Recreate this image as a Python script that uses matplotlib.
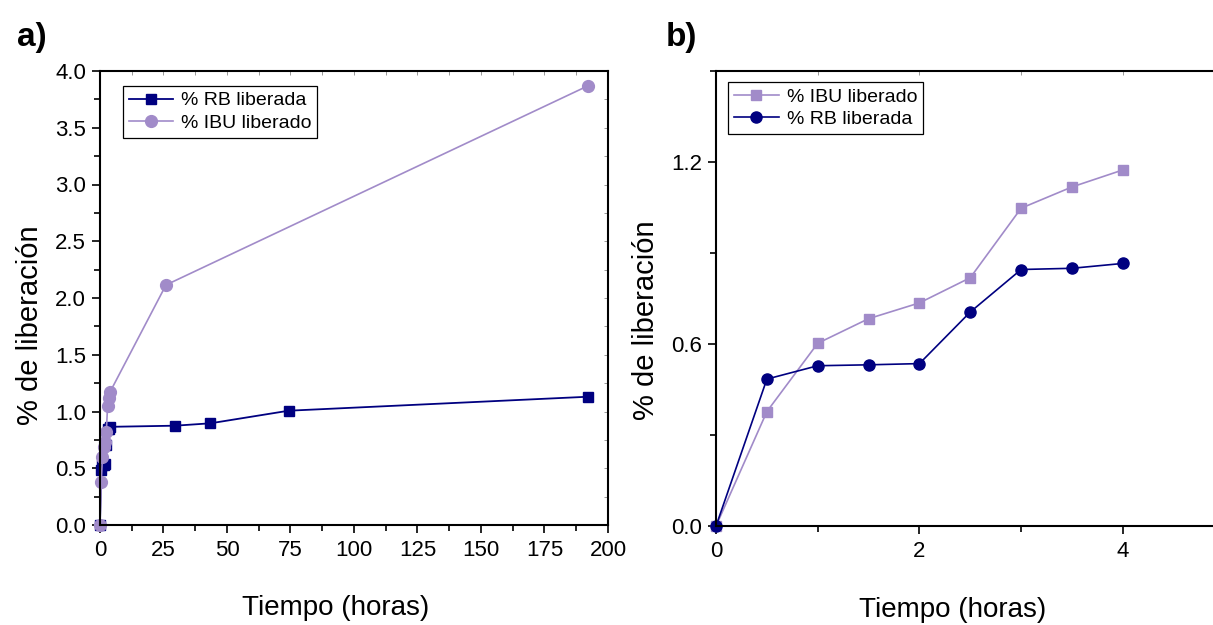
import matplotlib
matplotlib.use("Agg")
from matplotlib import pyplot as plt
from matplotlib.ticker import MultipleLocator, FormatStrFormatter, NullFormatter

plt.rcParams['font.family'] = ['Liberation Sans', 'DejaVu Sans']

# tiempos (horas)
t_short = [0, 0.5, 1.0, 1.5, 2.0, 2.5, 3.0, 3.5, 4.0]
rb_short = [0, 0.484, 0.528, 0.531, 0.535, 0.705, 0.845, 0.849, 0.865]
ibu_short = [0, 0.377, 0.602, 0.683, 0.735, 0.818, 1.047, 1.117, 1.173]

# ensayo largo
t_rb_long = t_short + [29.6, 43.5, 74.3, 192]
rb_long = rb_short + [0.875, 0.896, 1.007, 1.130]
t_ibu_long = t_short + [26, 192]
ibu_long = ibu_short + [2.115, 3.868]

navy = '#000080'
lila = '#A18BC9'

fig = plt.figure(figsize=(12.13, 6.25), dpi=100)
ax1 = fig.add_axes([0.0824, 0.16, 0.4188, 0.7264])
ax2 = fig.add_axes([0.5903, 0.1584, 0.4192, 0.7285])

# a)
ax1.plot(t_rb_long, rb_long, color=navy, lw=1.3, marker='s', ms=7, label='% RB liberada', clip_on=False)
ax1.plot(t_ibu_long, ibu_long, color=lila, lw=1.2, marker='o', ms=8.5, label='% IBU liberado', clip_on=False)
ax1.set_xlim(0, 200)
ax1.set_ylim(0, 4)
ax1.xaxis.set_major_locator(MultipleLocator(25))
ax1.xaxis.set_minor_locator(MultipleLocator(12.5))
ax1.yaxis.set_major_locator(MultipleLocator(0.5))
ax1.yaxis.set_minor_locator(MultipleLocator(0.25))
ax1.yaxis.set_major_formatter(FormatStrFormatter('%.1f'))

# b)
ax2.plot(t_short, ibu_short, color=lila, lw=1.2, marker='s', ms=7, label='% IBU liberado', clip_on=False)
ax2.plot(t_short, rb_short, color=navy, lw=1.2, marker='o', ms=8, label='% RB liberada', clip_on=False)
ax2.set_xlim(0, 5)
ax2.set_ylim(0, 1.5)
ax2.xaxis.set_major_locator(MultipleLocator(2))
ax2.xaxis.set_minor_locator(MultipleLocator(1))
ax2.yaxis.set_major_locator(MultipleLocator(0.6))
ax2.yaxis.set_minor_locator(MultipleLocator(0.3))
ax2.yaxis.set_major_formatter(FormatStrFormatter('%.1f'))
ax2.spines['right'].set_visible(False)

for ax in [ax1, ax2]:
    for s in ax.spines.values():
        s.set_linewidth(1.5)
    ax.tick_params(which='both', direction='out', width=1.2, labelsize=16, top=False, right=False)
    ax.tick_params(which='major', length=6, pad=4)
    ax.tick_params(which='minor', length=4)
    ax.tick_params(axis='x', which='major', pad=5)
    ax.set_xlabel('Tiempo (horas)', fontsize=20, labelpad=26)
    ax.set_ylabel('% de liberación', fontsize=21, labelpad=8)

ax1.xaxis.set_label_coords(0.463, -0.155)
ax2.xaxis.set_label_coords(0.466, -0.155)
ax1.yaxis.get_label().set_y(0.44)
ax2.yaxis.get_label().set_y(0.453)

# ticks interiores tenues arriba / derecha
top1 = ax1.secondary_xaxis('top')
top1.xaxis.set_major_locator(MultipleLocator(12.5))
top1.xaxis.set_major_formatter(NullFormatter())
top1.tick_params(direction='in', length=3, width=0.6, color='#888888')
top1.spines['top'].set_visible(False)
right1 = ax1.secondary_yaxis('right')
right1.yaxis.set_major_locator(MultipleLocator(0.25))
right1.yaxis.set_major_formatter(NullFormatter())
right1.tick_params(direction='in', length=3, width=0.6, color='#888888')
right1.spines['right'].set_visible(False)
top2 = ax2.secondary_xaxis('top')
top2.xaxis.set_major_locator(MultipleLocator(1))
top2.xaxis.set_major_formatter(NullFormatter())
top2.tick_params(direction='in', length=3, width=0.6, color='#888888')
top2.spines['top'].set_visible(False)

leg1 = ax1.legend(loc='upper left', bbox_to_anchor=(0.045, 0.967), borderaxespad=0,
                  fontsize=14, fancybox=False, edgecolor='black', framealpha=1,
                  handlelength=2.3, handletextpad=0.4, labelspacing=0.25, borderpad=0.3)
leg1.get_frame().set_linewidth(0.9)
leg2 = ax2.legend(loc='upper left', bbox_to_anchor=(0.024, 0.975), borderaxespad=0,
                  fontsize=14, fancybox=False, edgecolor='black', framealpha=1,
                  handlelength=2.3, handletextpad=0.4, labelspacing=0.25, borderpad=0.3)
leg2.get_frame().set_linewidth(0.9)

fig.text(17 / 1213, 1 - 46 / 625, 'a)', fontsize=24, fontweight='bold')
fig.text(666 / 1213, 1 - 46 / 625, 'b)', fontsize=24, fontweight='bold')

fig.savefig('out.png', dpi=100)
